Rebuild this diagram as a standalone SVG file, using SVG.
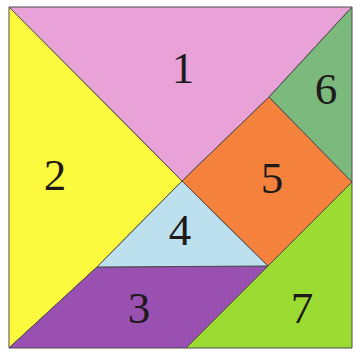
<svg xmlns="http://www.w3.org/2000/svg" width="356" height="352" viewBox="0 0 356 352">
<style>
.p{stroke:#4a4a4a;stroke-width:1;stroke-linejoin:round}
.t{font-family:"Liberation Serif","Times New Roman",serif;font-size:45px;fill:#1e1a1a;text-anchor:middle}
</style>
<rect width="356" height="352" fill="#ffffff"/>
<g id="piece1"><polygon class="p" fill="#E8A2D8" points="9,7 352,7 269,97 182,181"/><text class="t" x="183" y="83">1</text></g>
<g id="piece2"><polygon class="p" fill="#FCFA3E" points="9,7 182,181 97,267 9,348"/><text class="t" x="55" y="190">2</text></g>
<g id="piece3"><polygon class="p" fill="#9A50B0" points="9,348 97,267 268,266 186,348"/><text class="t" x="139" y="323">3</text></g>
<g id="piece4"><polygon class="p" fill="#BCE0EE" points="182,181 268,266 97,267"/><text class="t" x="180" y="245">4</text></g>
<g id="piece5"><polygon class="p" fill="#F4823C" points="182,181 269,97 352,182 268,266"/><text class="t" x="272" y="193">5</text></g>
<g id="piece6"><polygon class="p" fill="#7CB97C" points="352,7 352,182 269,97"/><text class="t" x="326" y="104">6</text></g>
<g id="piece7"><polygon class="p" fill="#9CDC32" points="352,182 352,348 186,348"/><text class="t" x="302" y="323">7</text></g>
<g id="connectors"></g>
</svg>
